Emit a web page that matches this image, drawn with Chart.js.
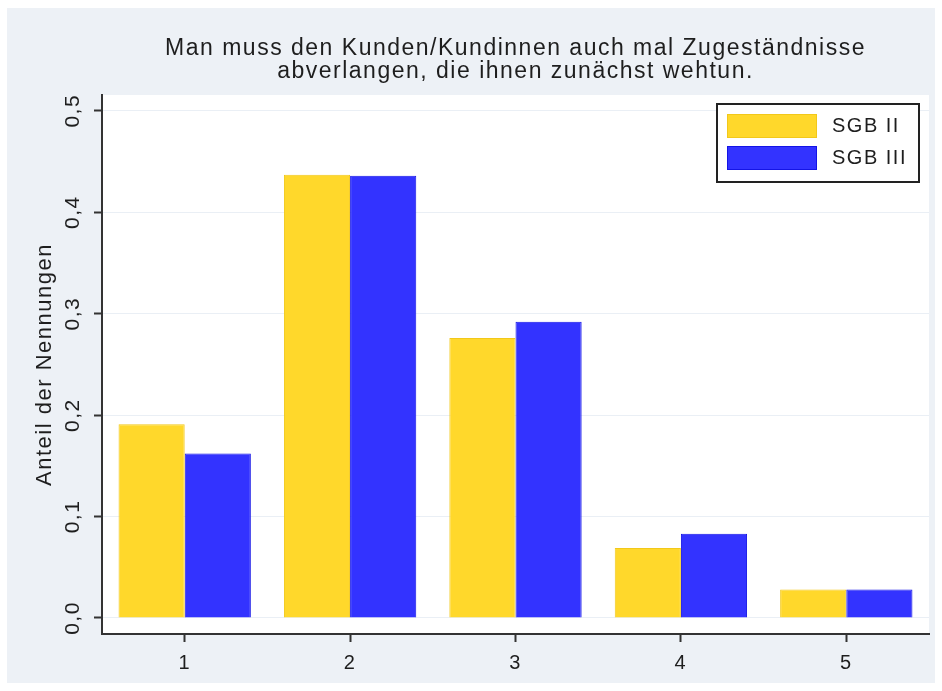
<!DOCTYPE html>
<html>
<head>
<meta charset="utf-8">
<script src="https://cdn.jsdelivr.net/npm/chart.js@4"></script>
<style>
  html, body { margin: 0; padding: 0; background: #fff; }
  #myChart { display: block; }
</style>
</head>
<body>
<canvas id="myChart" width="942" height="691"></canvas>
<script>
// values
var categories = ['1', '2', '3', '4', '5'];
var sgb2 = [0.191, 0.437, 0.276, 0.069, 0.028];
var sgb3 = [0.162, 0.436, 0.292, 0.083, 0.028];
var seriesNames = ['SGB II', 'SGB III'];
var yTicks = [0, 0.1, 0.2, 0.3, 0.4, 0.5];
var yTickLabels = ['0,0', '0,1', '0,2', '0,3', '0,4', '0,5'];
var titleLines = ['Man muss den Kunden/Kundinnen auch mal Zugeständnisse', 'abverlangen, die ihnen zunächst wehtun.'];
var yTitle = 'Anteil der Nennungen';

var FONT = '"Liberation Sans", Arial, sans-serif';
var TEXT = '#1e1e1e';

// panel background, white plot area, letter spacing like the original
var backdrop = {
    id: 'backdrop',
    beforeDraw: function(chart) {
        var ctx = chart.ctx;
        var a = chart.chartArea;
        ctx.save();
        ctx.fillStyle = '#ffffff';
        ctx.fillRect(0, 0, chart.width, chart.height);
        ctx.fillStyle = '#edf1f6';
        ctx.fillRect(7, 8, 928, 675);
        ctx.fillStyle = '#ffffff';
        ctx.fillRect(a.left, a.top, a.right - a.left, a.bottom - a.top);
        ctx.restore();
        ctx.letterSpacing = '1.5px';
    }
};

// boxed legend inside the plot, top right
var boxLegend = {
    id: 'boxLegend',
    afterDraw: function(chart) {
        var ctx = chart.ctx;
        var sets = chart.data.datasets;
        var x0 = 717, y0 = 104, w = 202, h = 78;
        ctx.save();
        ctx.fillStyle = '#ffffff';
        ctx.fillRect(x0, y0, w, h);
        ctx.strokeStyle = '#222';
        ctx.lineWidth = 2;
        ctx.strokeRect(x0, y0, w, h);
        ctx.font = '20px ' + FONT;
        ctx.textBaseline = 'middle';
        ctx.letterSpacing = '1.5px';
        for (var i = 0; i < sets.length; i++) {
            var sy = y0 + 10 + i * 32;
            ctx.fillStyle = sets[i].backgroundColor;
            ctx.fillRect(x0 + 10, sy, 90, 24);
            ctx.strokeStyle = sets[i].borderColor;
            ctx.lineWidth = 1;
            ctx.strokeRect(x0 + 10.5, sy + 0.5, 89, 23);
            ctx.fillStyle = TEXT;
            ctx.fillText(sets[i].label, x0 + 115, sy + 12);
        }
        ctx.restore();
    }
};

var ctx = document.getElementById('myChart');
new Chart(ctx, {
    type: 'bar',
    data: {
        labels: categories,
        datasets: [{
            label: seriesNames[0],
            data: sgb2,
            backgroundColor: '#ffd82b',
            borderColor: '#f2c81a',
            borderWidth: 1
        }, {
            label: seriesNames[1],
            data: sgb3,
            backgroundColor: '#3333ff',
            borderColor: '#1414e6',
            borderWidth: 1
        }]
    },
    options: {
        responsive: false,
        animation: false,
        devicePixelRatio: 1,
        layout: { padding: { left: 0, right: 13, top: 8, bottom: 0 } },
        datasets: { bar: { categoryPercentage: 0.8, barPercentage: 1.0 } },
        plugins: {
            legend: { display: false },
            tooltip: { enabled: false },
            title: {
                display: true,
                text: titleLines,
                fullSize: false,
                color: TEXT,
                font: { family: FONT, size: 23, weight: 'normal', lineHeight: 1 },
                padding: { top: 29.5, bottom: 11.5 }
            }
        },
        scales: {
            x: {
                offset: true,
                afterFit: function(scale) { scale.height = 57; },
                grid: { offset: false, drawOnChartArea: false, tickLength: 8, tickColor: '#333', tickWidth: 2 },
                border: { display: true, color: '#333', width: 2 },
                ticks: { color: TEXT, padding: 9, font: { family: FONT, size: 20 } }
            },
            y: {
                min: -0.0158,
                max: 0.5155,
                afterFit: function(scale) { scale.width = 102; },
                afterBuildTicks: function(scale) {
                    scale.ticks = yTicks.map(function(v) { return { value: v }; });
                },
                grid: { color: '#eaeff5', lineWidth: 1, tickLength: 8, tickColor: '#333', tickWidth: 2 },
                border: { display: true, color: '#333', width: 2 },
                ticks: {
                    color: TEXT,
                    minRotation: 90,
                    maxRotation: 90,
                    crossAlign: 'center',
                    padding: 6,
                    font: { family: FONT, size: 21 },
                    callback: function(value, index) { return yTickLabels[index]; }
                },
                title: {
                    display: true,
                    text: yTitle,
                    color: TEXT,
                    font: { family: FONT, size: 22, lineHeight: 1.2 },
                    padding: { top: 32, bottom: 0 }
                }
            }
        }
    },
    plugins: [backdrop, boxLegend]
});
</script>
</body>
</html>
